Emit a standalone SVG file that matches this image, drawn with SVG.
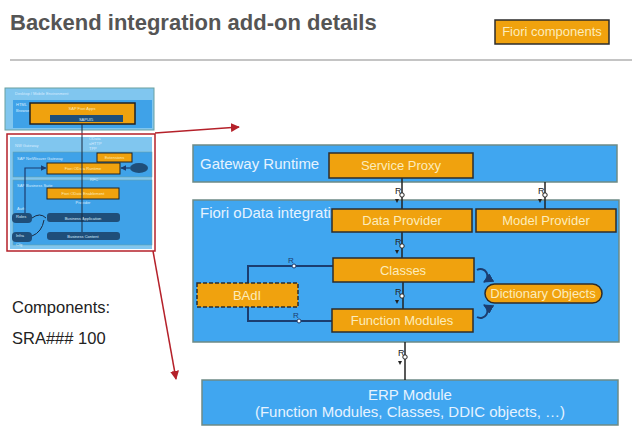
<svg xmlns="http://www.w3.org/2000/svg" width="640" height="436" viewBox="0 0 640 436">
<defs>
<style>
text{font-family:"Liberation Sans",Arial,sans-serif}
.blue{fill:#40a6f0;stroke:#6d8a86;stroke-width:1.5}
.org{fill:#f0a20e;stroke:#2c2c2c;stroke-width:1.5}
.otx{fill:#fcecbc;font-size:13px;text-anchor:middle}
.wtx{fill:#e6f3ff;font-size:15px}
.nav{fill:none;stroke:#1b3d70;stroke-width:2}
.con{fill:none;stroke:#222;stroke-width:1.5}
.rl{font-size:9px;fill:#222}
.red{fill:none;stroke:#b5212a;stroke-width:1.5}
.tn{font-size:4px;fill:#d8ecff}
.tno{font-size:4px;fill:#fcecbc;text-anchor:middle}
</style>
<marker id="ar" viewBox="0 0 10 10" refX="9" refY="5" markerWidth="6" markerHeight="6" orient="auto"><path d="M0,0L10,5L0,10z" fill="#b5212a"/></marker>
<marker id="an" viewBox="0 0 10 10" refX="9" refY="5" markerWidth="5" markerHeight="5" orient="auto"><path d="M0,0L10,5L0,10z" fill="#1b3d70"/></marker>
<g id="rsym">
<text class="rl" x="-6" y="0">R</text>
<circle cx="1" cy="1" r="2.2" fill="#fff" stroke="#222" stroke-width="1"/>
<path d="M-6,5L-2,5L-4,9z" fill="#222"/>
</g>
</defs>
<rect width="640" height="436" fill="#fff"/>

<g id="title">
<text x="10" y="30" font-size="22" font-weight="bold" fill="#555">Backend integration add-on details</text>
<line x1="10" y1="60" x2="632" y2="60" stroke="#b0b0b0" stroke-width="1.5"/>
</g>
<g id="legend">
<rect x="495" y="20" width="114" height="24" class="org"/>
<text x="552" y="36" class="otx" font-size="11">Fiori components</text>
</g>

<g id="thumbnail">
<rect x="5" y="88" width="149" height="42" fill="#80c6ef" stroke="#6aa0a0" stroke-width="1"/>
<text x="15" y="95" class="tn">Desktop / Mobile Environment</text>
<rect x="13" y="100" width="139" height="28" fill="#3fa2e8"/>
<text x="16" y="106" class="tn">HTML</text>
<text x="16" y="112" class="tn">Browser</text>
<rect x="30" y="103" width="105" height="21" fill="#f0a20e" stroke="#222" stroke-width="1.5"/>
<text x="82" y="110" class="tno">SAP Fiori Apps</text>
<rect x="50" y="115" width="73" height="7" fill="#1f4e79"/>
<text x="86" y="120.5" class="tn" text-anchor="middle">SAPUI5</text>
<rect x="10" y="137" width="142" height="112" fill="#80c6ef"/>
<text x="15" y="147" class="tn">NW Gateway</text>
<rect x="13" y="152" width="139" height="25" fill="#3fa2e8" stroke="#6aa0a0" stroke-width="0.5"/>
<text x="17" y="160" class="tn">SAP NetWeaver Gateway</text>
<rect x="97" y="153" width="35" height="9" fill="#f0a20e" stroke="#222" stroke-width="1"/>
<text x="114.5" y="159" class="tno">Extensions</text>
<rect x="47" y="163" width="73" height="11" fill="#f0a20e" stroke="#222" stroke-width="1"/>
<text x="83" y="170" class="tno">Fiori OData Runtime</text>
<ellipse cx="139" cy="168" rx="9" ry="5" fill="#1f4e79"/>
<line x1="130" y1="168" x2="121" y2="168" stroke="#1b3d70" stroke-width="1.2" marker-end="url(#an)"/>
<rect x="13" y="180" width="139" height="65" fill="#3fa2e8" stroke="#6aa0a0" stroke-width="0.5"/>
<text x="17" y="187" class="tn">SAP Business Suite</text>
<rect x="47" y="188" width="72" height="11" fill="#f0a20e" stroke="#222" stroke-width="1"/>
<text x="83" y="195" class="tno">Fiori OData Enablement</text>
<text x="83" y="204" class="tn" text-anchor="middle">Provider</text>
<rect x="47" y="213" width="73" height="9" rx="3" fill="#1f4e79"/>
<text x="83" y="219.5" class="tn" text-anchor="middle">Business Application</text>
<rect x="47" y="232" width="73" height="8" rx="3" fill="#1f4e79"/>
<text x="83" y="238" class="tn" text-anchor="middle">Business Content</text>
<rect x="12" y="213" width="20" height="10" rx="4" fill="#1f4e79"/>
<rect x="12" y="232" width="20" height="10" rx="4" fill="#1f4e79"/>
<text x="17" y="210" class="tn">Auth</text>
<text x="16" y="218" class="tn">Roles</text>
<text x="16" y="237" class="tn">Infra</text>
<text x="16" y="246" class="tn">Cfg</text>
<line x1="82" y1="124" x2="82" y2="232" stroke="#1b2a40" stroke-width="1"/>
<text x="89" y="140" class="tn" fill="#222">OData</text>
<text x="89" y="145" class="tn" fill="#222">aHTTP</text>
<text x="89" y="150" class="tn" fill="#222">TPP</text>
<text x="90" y="181" class="tn" fill="#222">RFC</text>
<path d="M25,213V168H46" stroke="#1b3d70" stroke-width="1.2" fill="none" marker-end="url(#an)"/>
<path d="M32,218Q40,212 46,218" stroke="#1b2a40" stroke-width="1" fill="none"/>
<path d="M32,236Q42,232 44,220" stroke="#1b2a40" stroke-width="1" fill="none"/>
<rect x="7" y="134" width="148" height="117" class="red" stroke-width="2"/>
</g>

<g id="gateway-runtime">
<rect x="193" y="145" width="424" height="37" class="blue"/>
<text x="200" y="169" class="wtx">Gateway Runtime</text>
</g>
<g id="fiori-odata-integration">
<rect x="193" y="200" width="426" height="142" class="blue"/>
<text x="200" y="218" class="wtx">Fiori oData integration</text>
</g>
<g id="erp-module">
<rect x="202" y="380" width="416" height="45" class="blue"/>
<text x="410" y="400" class="wtx" text-anchor="middle">ERP Module</text>
<text x="410" y="417" class="wtx" text-anchor="middle">(Function Modules, Classes, DDIC objects, …)</text>
</g>

<g id="connectors">
<line x1="155" y1="133" x2="239" y2="127" class="red" marker-end="url(#ar)"/>
<line x1="153" y1="251" x2="176" y2="379" class="red" marker-end="url(#ar)"/>
<line x1="402" y1="178" x2="402" y2="209" class="con"/>
<use href="#rsym" x="401" y="194"/>
<line x1="545" y1="182" x2="545" y2="209" class="con"/>
<use href="#rsym" x="544" y="194"/>
<line x1="402" y1="232" x2="402" y2="258" class="con"/>
<use href="#rsym" x="401" y="245"/>
<line x1="403" y1="282" x2="403" y2="309" class="con"/>
<use href="#rsym" x="401" y="295"/>
<line x1="405" y1="342" x2="405" y2="380" class="con"/>
<use href="#rsym" x="404" y="356"/>
<path d="M333,266H248V283" class="nav"/>
<path d="M248,307V321H332" class="nav"/>
<g transform="translate(294,266)"><text x="-6" y="-3" font-size="8" fill="#1b3d70">R</text><circle cx="0" cy="0" r="2" fill="#fff" stroke="#1b3d70"/></g>
<g transform="translate(299,321)"><text x="-6" y="-3" font-size="8" fill="#1b3d70">R</text><circle cx="0" cy="0" r="2" fill="#fff" stroke="#1b3d70"/></g>
<path d="M477,270A6.5,6.5 0 1 1 484,282" class="nav" stroke-width="1.8" marker-end="url(#an)"/>
<path d="M477,317A6.5,6.5 0 1 0 484,305" class="nav" stroke-width="1.8" marker-end="url(#an)"/>
</g>

<g id="service-proxy">
<rect x="329" y="153" width="144" height="25" class="org"/>
<text x="401" y="170" class="otx">Service Proxy</text>
</g>
<g id="data-provider">
<rect x="332" y="209" width="140" height="23" class="org"/>
<text x="402" y="225" class="otx">Data Provider</text>
</g>
<g id="model-provider">
<rect x="476" y="209" width="140" height="23" class="org"/>
<text x="546" y="225" class="otx">Model Provider</text>
</g>
<g id="classes">
<rect x="333" y="258" width="141" height="24" class="org"/>
<text x="403" y="275" class="otx">Classes</text>
</g>
<g id="function-modules">
<rect x="332" y="309" width="141" height="23" class="org"/>
<text x="402" y="325" class="otx">Function Modules</text>
</g>
<g id="badi">
<rect x="197" y="283" width="101" height="24" class="org" stroke-dasharray="4,2"/>
<text x="247" y="300" class="otx">BAdI</text>
</g>
<g id="dictionary-objects">
<rect x="485" y="284" width="117" height="19" rx="9.5" class="org"/>
<text x="543" y="297.5" class="otx" font-size="10">Dictionary Objects</text>
</g>
<g id="components">
<text x="12" y="313" font-size="16.5" fill="#222">Components:</text>
<text x="12" y="344" font-size="16.5" fill="#222">SRA### 100</text>
</g>
</svg>
